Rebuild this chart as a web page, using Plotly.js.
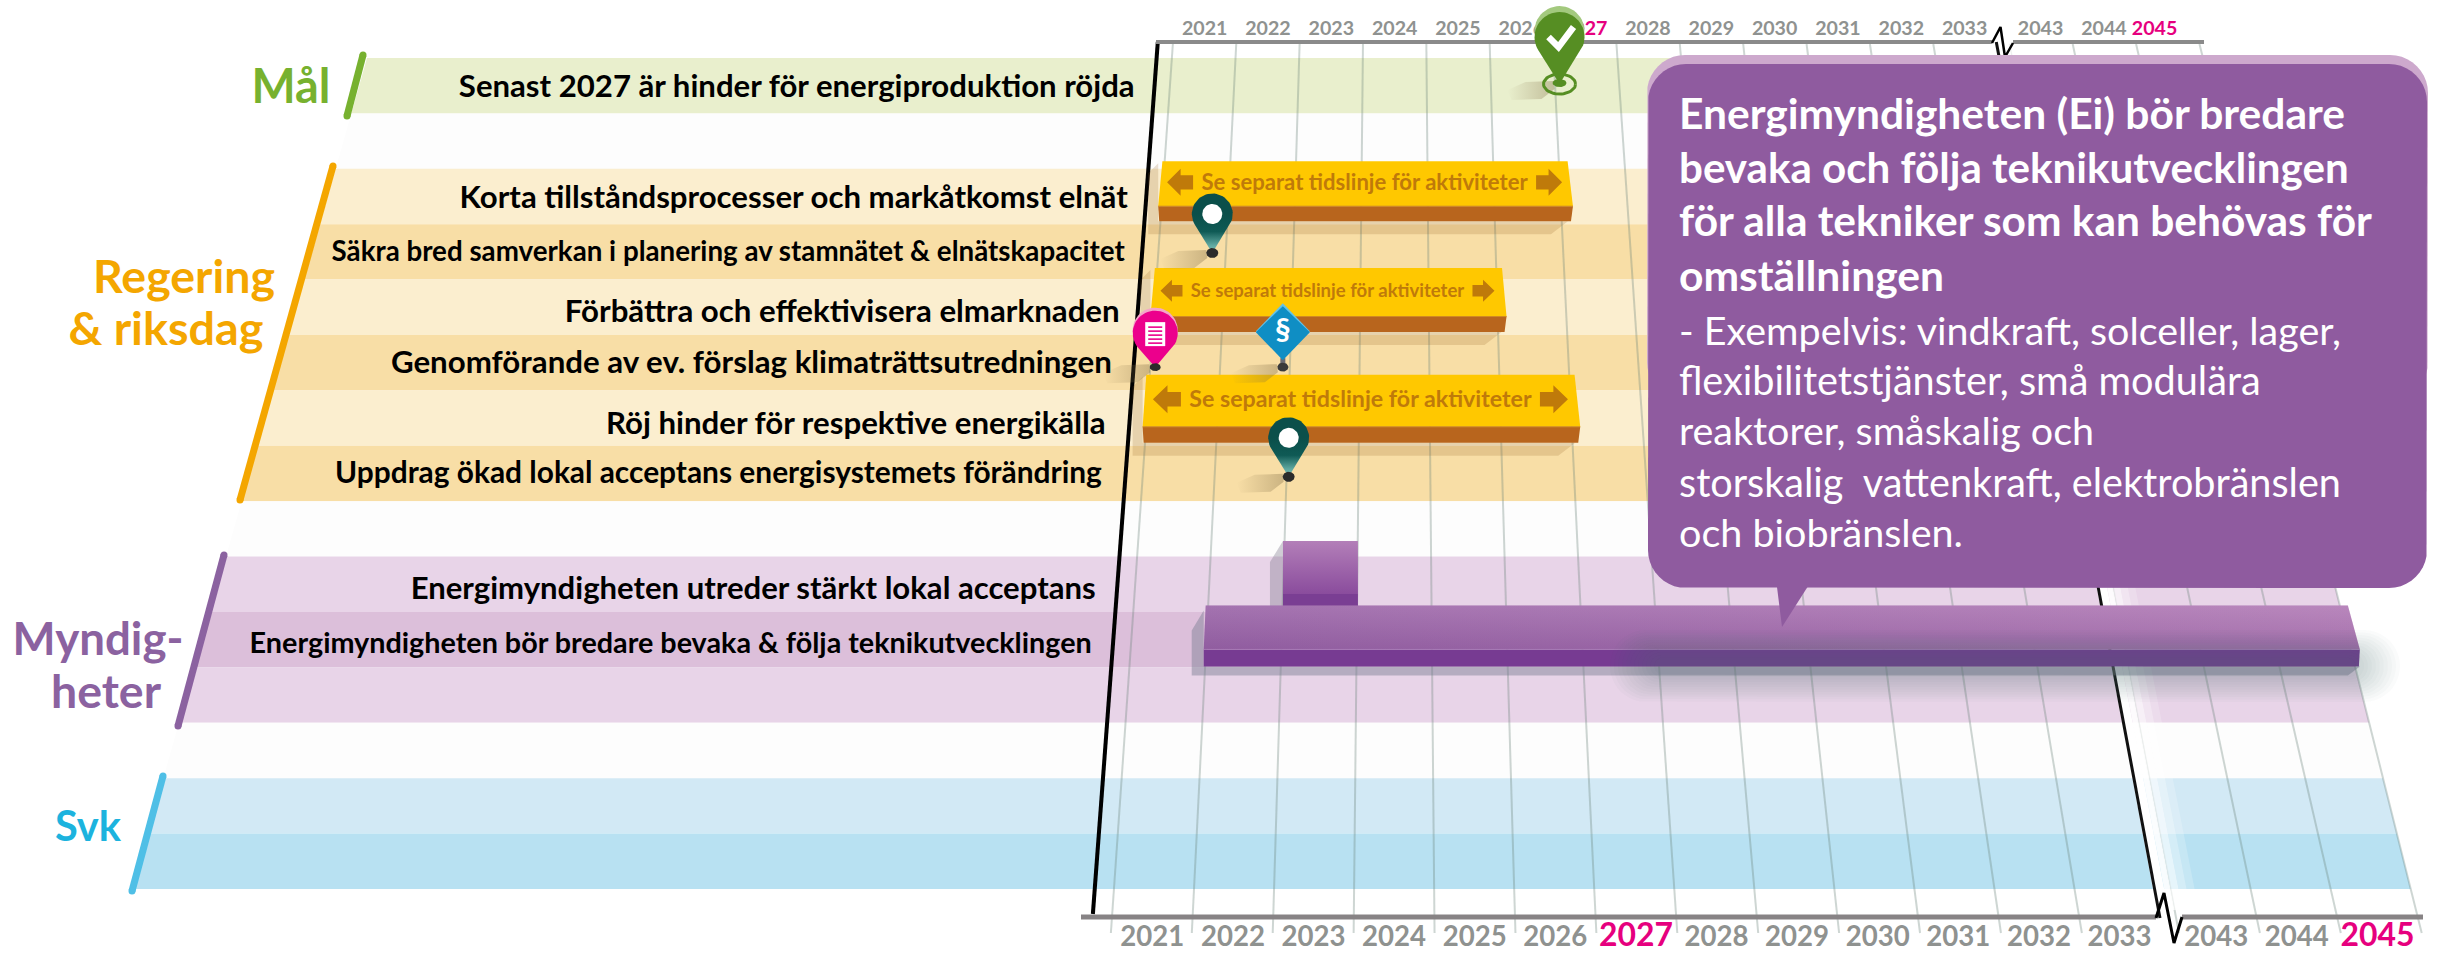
<!DOCTYPE html>
<html><head><meta charset="utf-8">
<script src="https://cdn.plot.ly/plotly-3.0.1.min.js"></script>
<style>html,body{margin:0;padding:0;background:#fff;overflow:hidden}#c{width:2445px;height:957px}</style>
</head><body><div id="c"></div>
<script>
// ---------- data ----------
const yearLabels = ['2021','2022','2023','2024','2025','2026','2027','2028','2029','2030','2031','2032','2033','2043','2044','2045'];
const highlightYears = ['2027','2045'];
const yearSlots = [0,1,2,3,4,5,6,7,8,9,10,11,12,13.2,14.2,15.2];
const yearBoundaries = [0,1,2,3,4,5,6,7,8,9,10,11,12,13.2,14.2,15.2,16.2];
const rowGroups = ['mal','blank','reg','reg','reg','reg','reg','reg','blank','myn','myn','myn','blank','svk','svk'];
const rowTexts = ['Senast 2027 är hinder för energiproduktion röjda','Korta tillståndsprocesser och markåtkomst elnät','Säkra bred samverkan i planering av stamnätet & elnätskapacitet','Förbättra och effektivisera elmarknaden','Genomförande av ev. förslag klimaträttsutredningen','Röj hinder för respektive energikälla','Uppdrag ökad lokal acceptans energisystemets förändring','Energimyndigheten utreder stärkt lokal acceptans','Energimyndigheten bör bredare bevaka & följa teknikutvecklingen'];
const rowTextRows = [0.556,2.566,3.536,4.63,5.536,6.648,7.536,9.634,10.61];
const yellowBarRows = [2,4,6];
const yellowBarEnds = [6.18,5.13,6.12];
const yellowBarLabel = 'Se separat tidslinje för aktiviteter';
const purpleBarRows = [10];
const purpleBarStart = 0.97, purpleBarEnd = 16.32;
const purpleSmallStart = 2.0, purpleSmallEnd = 3.01;
const milestoneYears = [6.07,0.8,0.07,1.9,2.03];
const milestoneRows = [0.47,3.52,5.58,5.58,7.56];
const milestoneKinds = ['check','ring','doc','para','ring'];
const calloutHead = ['Energimyndigheten (Ei) bör bredare','bevaka och följa teknikutvecklingen','för alla tekniker som kan behövas för','omställningen'];
const calloutBody = ['- Exempelvis: vindkraft, solceller, lager,','flexibilitetstjänster, små modulära','reaktorer, småskalig och','storskalig\u00a0\u00a0vattenkraft, elektrobränslen','och biobränslen.'];

// ---------- projection of (year position, row position) onto the sheet ----------
const F='Lato, "Open Sans", sans-serif';
const yOfRow = r => 58+55.4*r;
const xTop = k => 1173+63.33*k, xBot = k => 1112+80.6*k;
const xAt = (k,y) => xTop(k)+(xBot(k)-xTop(k))*(y-42)/875;
const leftEdge = y => 367-0.2828*(y-58);
const T=[];
const cv=document.createElement('canvas').getContext('2d');
function fit(txt,w,weight){cv.font=(weight||'bold')+' 100px Lato';return 100*w/cv.measureText(txt).width;}
function base(o){return Object.assign({type:'scatter',hoverinfo:'skip',showlegend:false},o);}
function poly(pts,col,extra){const p=pts.concat([pts[0]]);
  T.push(base(Object.assign({x:p.map(a=>a[0]),y:p.map(a=>a[1]),mode:'lines',fill:'toself',fillcolor:col||'rgba(0,0,0,0)',line:{width:0}},extra||{})));}
function vgrad(y1,y2,stops){return {fillgradient:{type:'vertical',start:y1,stop:y2,colorscale:stops}};}
function hgrad(x1,x2,stops){return {fillgradient:{type:'horizontal',start:x1,stop:x2,colorscale:stops}};}
function line(pts,col,w,extra){T.push(base(Object.assign({x:pts.map(a=>a[0]),y:pts.map(a=>a[1]),mode:'lines',line:{color:col,width:w}},extra||{})));}
function text(x,y,s,size,col,pos,weight){T.push(base({x:[x],y:[y],mode:'text',text:[s],textposition:pos||'middle center',textfont:{family:F,size:size,color:col,weight:weight||'bold'}}));}
function ell(cx,cy,rx,ry){const a=[];for(let i=0;i<48;i++){const t=i/48*2*Math.PI;a.push([cx+rx*Math.cos(t),cy+ry*Math.sin(t)]);}return a;}
function drop(cx,cy,r,tip){const d=tip-cy,a=Math.acos(r/d),p=[[cx,tip]];for(let i=0;i<=40;i++){const f=a+(2*Math.PI-2*a)*i/40;p.push([cx+r*Math.sin(f),cy+r*Math.cos(f)]);}return p;}
function rrect(x0,y0,x1,y1,r){const p=[];const c=[[x1-r,y0+r,-90],[x1-r,y1-r,0],[x0+r,y1-r,90],[x0+r,y0+r,180]];
  c.forEach(q=>{for(let i=0;i<=10;i++){const t=(q[2]+9*i)*Math.PI/180;p.push([q[0]+r*Math.cos(t),q[1]+r*Math.sin(t)]);}});return p;}

// ---------- bands ----------
const shade={mal:['#e9efcd','#e9efcd'],blank:['#fdfdfd','#fdfdfd'],reg:['#fbeecf','#f8dea6'],myn:['#e8d4e8','#dcbfda'],svk:['#d2e9f5','#b8e1f2']};
rowGroups.forEach((g,i)=>{const y0=yOfRow(i),y1=yOfRow(i+1);const first=rowGroups.indexOf(g);
  const col=shade[g][(i-first)%2];
  poly([[leftEdge(y0),y0],[xAt(16.2,y0),y0],[xAt(16.2,y1),y1],[leftEdge(y1),y1]],col);});

// ---------- year grid ----------
yearBoundaries.forEach(k=>{line([[xAt(k,44),44],[xAt(k,933),933]],'rgba(105,130,120,0.33)',2);});
// fade at the axis break
[[12.98,13.12,1],[13.12,13.2,.9],[13.2,13.3,.65],[13.3,13.4,.4],[13.4,13.5,.2]].forEach(s=>{
  poly([[xAt(s[0],44),44],[xAt(s[1],44),44],[xAt(s[1],910),910],[xAt(s[0],910),910]],'rgba(255,255,255,'+s[2]+')');});

// ---------- axes ----------
line([[xAt(-0.24,42),42],[xAt(-0.24,914),914]],'#000',4);
line([[xAt(13,42),42],[xAt(13,918),918]],'#111',3);
line([[1156,42],[1992,42]],'#8a8a8a',4);
line([[2013,42],[2204,42]],'#8a8a8a',4);
line([[1081,917],[2156,917]],'#878385',5);
line([[2182,917],[2423,917]],'#878385',5);
line([[1992,43],[2000.5,27],[2005,57],[2013,43]],'#000',2.5);
line([[2156,918],[2164,893],[2174,943],[2182,917]],'#000',3);
// year labels
const topSize=fit('2021',45.5), botSize=fit('2021',64), botHi=fit('2027',74);
const topSlots=yearSlots.map(s=>s===15.2?15.0:s);
yearLabels.forEach((lab,i)=>{const hi=highlightYears.includes(lab);
  text(xTop(topSlots[i]+0.5),30,lab,topSize,hi?'#e6007e':'#8f9290');
  text(xBot(yearSlots[i]+0.5),hi?938.5:939.5,lab,hi?botHi:botSize,hi?'#e6007e':'#8f9290');
});

// ---------- category slashes and names ----------
const slash=(a,b,c)=>line([a,b],c,7,{mode:'lines+markers',marker:{color:c,size:7}});
slash([363,55],[347,116],'#77b12f');
slash([333,166],[240,500],'#f4a600');
slash([224,555],[178,726],'#8b62a0');
slash([163,776],[132,891],'#4fbfe6');
text(291,91,'Mål',fit('Mål',79),'#77b12f');
text(184,281,'Regering',fit('Regering',182),'#f4a600');
text(166,333,'& riksdag',fit('& riksdag',195),'#f4a600');
text(98,644,'Myndig-',fit('Myndig-',171),'#8b62a0');
text(106,696,'heter',fit('heter',110),'#8b62a0');
text(88,831,'Svk',fit('Svk',66),'#1cb3de');

// ---------- row texts ----------
const rowWidths=[678,669,794,555,722,501,767,686,843];
const rowEndK=[-.546,-.514,-.495,-.5,-.554,-.573,-.569,-.525,-.52];
rowTexts.forEach((s,i)=>{const y=yOfRow(rowTextRows[i]);
  text(xAt(rowEndK[i],y),y,s,fit(s,rowWidths[i]),'#000','middle left');});

// ---------- yellow bars ----------
const labW=[327,274,343];
yellowBarRows.forEach((r,i)=>{
  const yb=yOfRow(r+1)-3, total=52+0.036*yb, front=15+i*0.5;
  const yf=yb-front, yt=yb-total;
  const k0=-0.05,k1=yellowBarEnds[i];
  const L=xAt(k0,yf),R=xAt(k1,yf),Lt=xAt(k0,yt)+(i===2?0:1),Rt=xAt(k1,yt)-3;
  // shadow
  poly([[L-10,yt+12],[L,yt+2],[L,yb],[R-5,yb],[R-22,yb+13],[L-10,yb+13]],'rgba(150,100,40,0.2)');
  poly([[Lt,yt],[Rt,yt],[R,yf],[L,yf]],'#ffc800');
  poly([[L,yf],[R,yf],[R-2,yb],[L+1,yb]],'#b8651d');
  line([[L,yf],[R,yf]],'#d08a22',1);
  // arrows
  const cy=yt+(yf-yt)*0.47, cx=(L+R)/2-1, h=(i===1?11:(i===0?13.5:14)), w=(i===1?22:(i===0?26:28));
  const lx=cx-labW[i]/2-8-w;
  const rx=cx+labW[i]/2+8;
  poly([[lx,cy],[lx+w*.52,cy-h],[lx+w*.52,cy-h*.52],[lx+w,cy-h*.52],[lx+w,cy+h*.52],[lx+w*.52,cy+h*.52],[lx+w*.52,cy+h]],'#bf7a0a');
  poly([[rx+w,cy],[rx+w*.48,cy-h],[rx+w*.48,cy-h*.52],[rx,cy-h*.52],[rx,cy+h*.52],[rx+w*.48,cy+h*.52],[rx+w*.48,cy+h]],'#bf7a0a');
  text(cx,cy+2,yellowBarLabel,fit(yellowBarLabel,labW[i]),'#bf7a0a');
});

// ---------- purple bars ----------
{ // small bar
  const yf=594,yb=606,yt=541;
  const L=xAt(purpleSmallStart,yf),R=xAt(purpleSmallEnd,yf);
  poly([[L-13,562],[L,541],[L,yb],[L-13,yb]],'rgba(120,115,135,0.35)');
  poly([[L,yt],[R,yt],[R,yf],[L,yf]],null,vgrad(yt,yf,[[0,'#b37fb8'],[1,'#8a4c9d']]));
  poly([[L,yf],[R,yf],[R,yb],[L,yb]],'#7a3e93');
  // long bar
  purpleBarRows.forEach(r=>{
    const yB=yOfRow(r+1)-1,yF=yB-17,yT=yF-44;
    const Lb=xAt(purpleBarStart,yF),Rb=xAt(purpleBarEnd,yF),Lt=Lb+2,Rt=Rb-12;
    poly([[Lb-12,yT+25],[Lb,yT+5],[Lb,yB],[Rb,yB],[Rb-12,yB+9],[Lb-12,yB+9]],'rgba(120,125,145,0.45)');
    poly([[Lt,yT],[Rt,yT],[Rb,yF],[Lb,yF]],null,hgrad(Lb,Rb,[[0,'#9864a6'],[1,'#b47fb7']]));
    poly([[Lt,yT],[Rt,yT],[Rb,yF],[Lb,yF]],null,vgrad(yT,yF,[[0,'rgba(200,160,205,0.25)'],[1,'rgba(120,70,140,0.25)']]));
    poly([[Lb,yF],[Rb,yF],[Rb-1,yB],[Lb,yB]],'#773b92');
    line([[Lb,yF],[Rb,yF]],'rgba(190,150,200,0.5)',1);
  });
}
// soft shadow thrown by the speech bubble
[0,2.5,5,7.5,10,12.5,15,17.5,20,22.5,25,27.5].forEach(d=>{
  poly(rrect(1610+d*1.6,630+d,2400-d*1.6,702-d,36-d),'rgba(85,110,100,0.026)');});

// ---------- milestones ----------
function softShadow(tx,ty){const x0=tx-52;
  poly([[tx-6,ty-3],[x0+18,ty-2],[x0,ty+6],[x0+4,ty+16],[tx-18,ty+15],[tx-5,ty+5]],null,hgrad(x0,tx,[[0,'rgba(130,110,70,0)'],[1,'rgba(130,110,70,0.42)']]));}
milestoneYears.forEach((k,i)=>{
  const tipY=yOfRow(milestoneRows[i]), x=xAt(k,tipY), kind=milestoneKinds[i];
  softShadow(x,tipY);
  if(kind==='check'){
    const cy=tipY-47;
    poly(ell(x,tipY,16,10),'rgba(0,0,0,0)',{line:{color:'#568e23',width:3}});
    poly(drop(x,cy-6,25,tipY-20),'#a3c97e');
    poly(drop(x,cy,25,tipY),'#568e23');
    poly(ell(x,tipY-1,7,4),'#568e23');
    line([[x-11,cy],[x-1,cy+10],[x+14,cy-10]],'#fff',6.5);
  } else if(kind==='ring'){
    const cy=tipY-39;
    poly(drop(x,cy,20.5,tipY),null,vgrad(cy,tipY,[[0,'#0b4f4a'],[.45,'#0f5a55'],[.8,'#5fa8a0'],[1,'#7fbdb4']]));
    poly(ell(x,cy,10,10),'#fff');
    poly(ell(x,tipY,6,5),'#2b2b2b');
  } else if(kind==='doc'){
    const cy=tipY-34;
    poly(drop(x,cy-3,22.5,tipY-8),'#f4a6c9');
    poly(drop(x,cy,22.5,tipY),'#ec008c');
    poly([[x-10,cy-11],[x+10,cy-11],[x+10,cy+13],[x-10,cy+13]],'#fff');
    [-5,-1,3,7,11].forEach(d=>line([[x-7,cy+d-1],[x+7,cy+d-1]],'#ec008c',1.6));
    poly(ell(x,tipY,5.5,4),'#2b2b2b');
  } else {
    const cy=tipY-35, hw=27, hh=28;
    line([[x,cy+hh-2],[x,tipY]],'#6a6a72',5);
    poly([[x,cy-hh-1],[x+hw,cy-1],[x,cy+hh-1],[x-hw,cy-1]],'#63c3e8');
    poly([[x,cy-hh+2],[x+hw,cy],[x,cy+hh],[x-hw,cy]],'#0f8ec4');
    text(x,cy,'§',31,'#fff');
    poly(ell(x,tipY,5.5,4.5),'#3a3a3a');
  }
});

// ---------- speech bubble ----------
poly(rrect(1647,55,2428,400,38),'#cda9cd');
poly(rrect(1648,64,2427,588,38),'#8f5b9f');
poly([[1777,587],[1807.5,587],[1782,627]],'#8f5b9f');
const headW=[667,670,695,265], bodyW=[663,582,415,662,284];
const headY=[118,172,225,280], bodyY=[335,385,435,487,537];
calloutHead.forEach((s,i)=>text(1679,headY[i],s,fit(s,headW[i]),'#fff','middle right'));
calloutBody.forEach((s,i)=>text(1679,bodyY[i],s,fit(s,bodyW[i],'normal'),'#fff','middle right','normal'));

Plotly.newPlot('c',T,{
  width:2445,height:957,margin:{l:0,r:0,t:0,b:0},
  paper_bgcolor:'#fff',plot_bgcolor:'#fff',showlegend:false,hovermode:false,
  xaxis:{range:[0,2445],visible:false,fixedrange:true},
  yaxis:{range:[957,0],visible:false,fixedrange:true}
},{displayModeBar:false,staticPlot:true});
</script></body></html>
